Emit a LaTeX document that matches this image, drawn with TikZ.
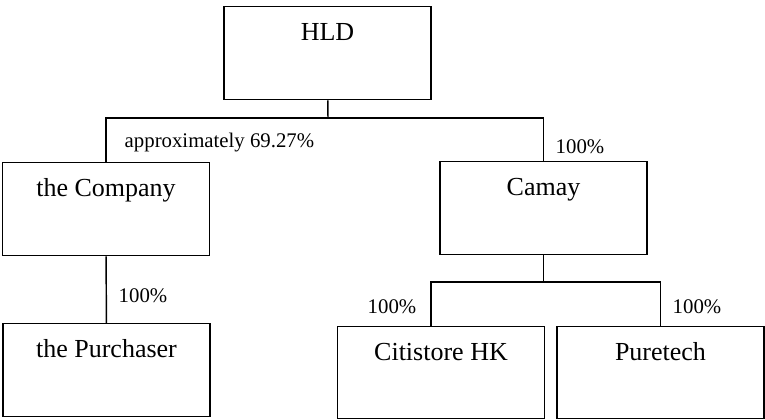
\documentclass[tikz,border=0pt]{standalone}
\usepackage{fontspec}
\setmainfont{Liberation Serif}
\begin{document}
\begin{tikzpicture}[x=0.75pt,y=-0.75pt,line width=1.1pt]
\tikzstyle{entity}=[draw=black,anchor=north,minimum width=155pt,inner sep=0pt,text height=25.5pt,text depth=44.25pt,font=\fontsize{19.5}{23}\selectfont]
\tikzstyle{pct}=[anchor=base west,inner sep=0pt,font=\fontsize{15.6}{18}\selectfont]
\useasboundingbox (0,0) rectangle (765,419);
\node [entity] (hld) at (327.5,6) {HLD};
\node [entity] (company) at (106,162) {the Company};
\node [entity] (camay) at (543.5,161) {Camay};
\node [entity] (purchaser) at (106.5,323) {the Purchaser};
\node [entity,text depth=43.5pt] (citi) at (441,326) {Citistore HK};
\node [entity,text depth=43.5pt] (pure) at (660.5,326) {Puretech};
\coordinate (hldj) at (328,118);
\coordinate (camj) at (543.5,282);
\draw [black] (hld) -- (hldj);
\draw [black] (company.north) |- (hldj) -| (camay.north);
\draw [black] (company) -- (purchaser);
\draw [black] (camay) -- (camj);
\draw [black] ([xshift=-7.5pt]citi.north) |- (camj) -| (pure.north);
\node [pct] (lcompany) at (124,147) {approximately 69.27\%};
\node [pct] (lcamay) at (555,153) {100\%};
\node [pct] (lpurchaser) at (118,302) {100\%};
\node [pct] (lciti) at (367,313) {100\%};
\node [pct] (lpure) at (672,313) {100\%};
\end{tikzpicture}
\end{document}
